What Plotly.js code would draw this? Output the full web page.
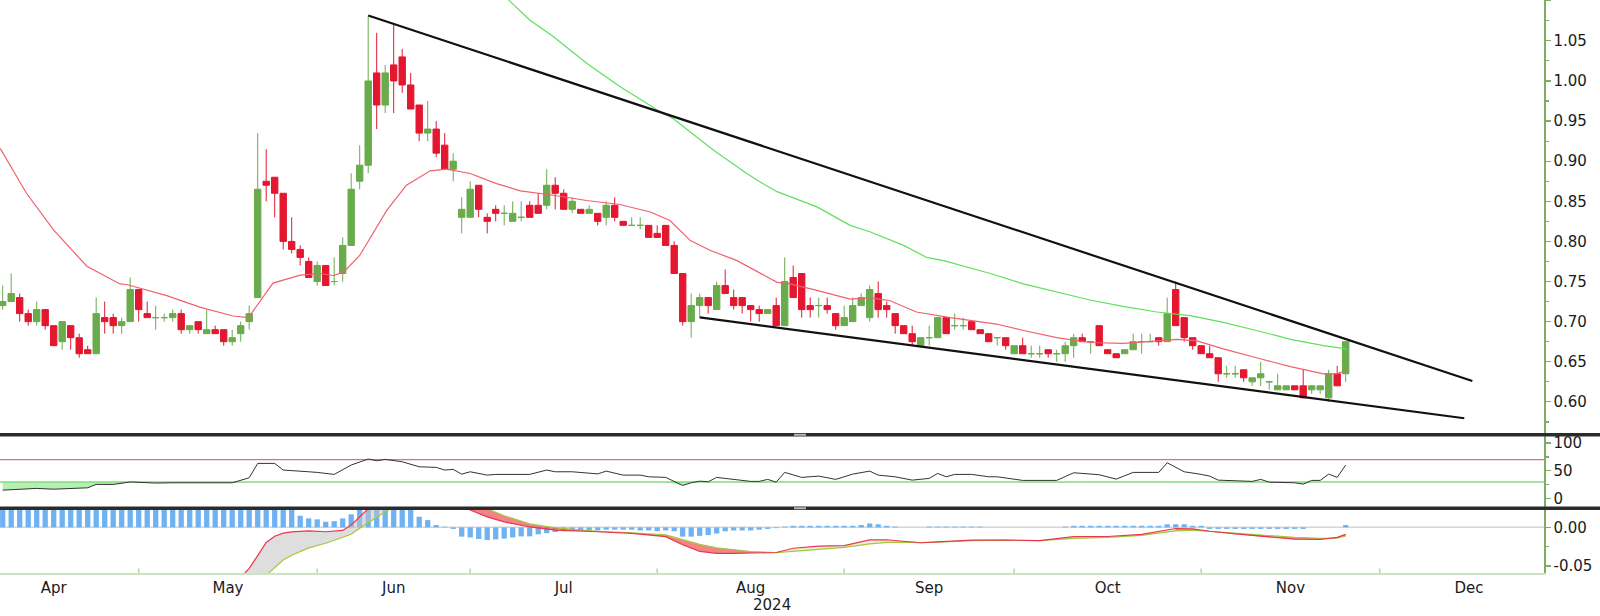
<!DOCTYPE html>
<html><head><meta charset="utf-8">
<script src="https://cdn.plot.ly/plotly-3.0.1.min.js"></script>
<style>html,body{margin:0;padding:0;background:#fff}#chart{width:1600px;height:616px}</style>
</head><body><div id="chart"></div>
<script>
// ---- price candles (one per trading session, Apr -> Nov 2024) ----
const open = [0.72,0.725,0.73,0.71,0.70,0.715,0.695,0.675,0.695,0.68,
0.665,0.66,0.705,0.705,0.695,0.70,0.74,0.71,0.705,0.705,
0.705,0.71,0.69,0.70,0.685,0.69,0.69,0.675,0.685,0.70,
0.73,0.875,0.88,0.86,0.80,0.79,0.775,0.75,0.77,0.75,
0.76,0.795,0.875,0.895,1.01,0.97,1.02,1.03,0.995,0.97,
0.935,0.94,0.92,0.89,0.83,0.83,0.87,0.83,0.84,0.835,
0.825,0.83,0.845,0.845,0.845,0.87,0.86,0.84,0.84,0.835,
0.835,0.83,0.845,0.825,0.82,0.82,0.82,0.81,0.82,0.795,
0.76,0.70,0.72,0.73,0.715,0.745,0.73,0.73,0.72,0.715,
0.71,0.72,0.695,0.755,0.76,0.72,0.72,0.72,0.71,0.695,
0.70,0.72,0.705,0.735,0.72,0.71,0.695,0.685,0.67,0.68,
0.68,0.705,0.695,0.695,0.70,0.69,0.685,0.68,0.68,0.66,
0.67,0.66,0.66,0.665,0.66,0.66,0.67,0.68,0.675,0.695,
0.665,0.66,0.66,0.665,0.675,0.675,0.68,0.675,0.74,0.705,
0.68,0.67,0.66,0.655,0.635,0.635,0.64,0.625,0.63,0.625,
0.615,0.615,0.62,0.62,0.615,0.615,0.605,0.635,0.635];
const high = [0.745,0.76,0.735,0.715,0.725,0.715,0.695,0.70,0.695,0.685,
0.67,0.73,0.725,0.71,0.705,0.755,0.74,0.725,0.72,0.71,
0.715,0.715,0.695,0.70,0.715,0.695,0.69,0.69,0.70,0.72,
0.935,0.915,0.88,0.86,0.83,0.795,0.78,0.775,0.77,0.78,
0.805,0.885,0.92,1.08,1.06,1.02,1.07,1.04,1.01,0.97,
0.975,0.95,0.935,0.91,0.855,0.875,0.87,0.835,0.845,0.845,
0.85,0.85,0.85,0.86,0.89,0.88,0.865,0.855,0.84,0.845,
0.835,0.85,0.855,0.825,0.83,0.83,0.82,0.82,0.82,0.80,
0.76,0.735,0.735,0.73,0.75,0.765,0.74,0.73,0.72,0.72,
0.715,0.73,0.78,0.77,0.76,0.73,0.73,0.73,0.71,0.72,
0.73,0.735,0.745,0.75,0.725,0.71,0.695,0.695,0.68,0.695,
0.705,0.705,0.71,0.705,0.70,0.69,0.685,0.68,0.68,0.67,
0.68,0.67,0.67,0.665,0.665,0.675,0.685,0.685,0.675,0.695,
0.665,0.66,0.665,0.685,0.685,0.685,0.68,0.73,0.75,0.705,
0.68,0.67,0.67,0.655,0.645,0.645,0.64,0.63,0.65,0.625,
0.635,0.62,0.62,0.64,0.62,0.62,0.64,0.645,0.675];
const low = [0.715,0.725,0.70,0.695,0.695,0.69,0.67,0.665,0.665,0.655,
0.66,0.66,0.685,0.685,0.685,0.70,0.70,0.705,0.69,0.70,
0.70,0.685,0.685,0.685,0.685,0.685,0.67,0.67,0.675,0.69,
0.73,0.85,0.83,0.79,0.785,0.77,0.755,0.745,0.745,0.745,
0.75,0.795,0.865,0.885,0.94,0.96,0.96,0.985,0.965,0.925,
0.925,0.905,0.89,0.875,0.81,0.83,0.83,0.81,0.825,0.82,
0.825,0.825,0.83,0.835,0.84,0.84,0.84,0.835,0.835,0.835,
0.82,0.82,0.825,0.82,0.82,0.815,0.805,0.805,0.795,0.76,
0.695,0.68,0.705,0.71,0.715,0.735,0.715,0.71,0.70,0.70,
0.71,0.695,0.695,0.73,0.705,0.705,0.705,0.71,0.69,0.695,
0.70,0.72,0.70,0.705,0.705,0.685,0.685,0.67,0.67,0.67,
0.68,0.685,0.69,0.69,0.69,0.685,0.675,0.67,0.665,0.66,
0.66,0.655,0.655,0.655,0.65,0.65,0.655,0.675,0.66,0.67,
0.66,0.655,0.66,0.665,0.66,0.675,0.67,0.675,0.695,0.675,
0.665,0.66,0.655,0.625,0.63,0.63,0.625,0.62,0.62,0.615,
0.615,0.615,0.615,0.605,0.61,0.61,0.60,0.62,0.625];
const close = [0.725,0.735,0.71,0.70,0.715,0.695,0.67,0.70,0.68,0.66,
0.66,0.71,0.70,0.695,0.70,0.74,0.715,0.705,0.705,0.705,
0.71,0.69,0.695,0.69,0.69,0.685,0.675,0.68,0.695,0.71,
0.865,0.87,0.86,0.80,0.79,0.78,0.755,0.77,0.745,0.75,
0.795,0.865,0.895,1.00,0.97,1.01,1.00,0.995,0.965,0.935,
0.94,0.91,0.89,0.90,0.84,0.865,0.84,0.825,0.835,0.835,
0.835,0.83,0.83,0.835,0.87,0.86,0.84,0.85,0.835,0.84,
0.825,0.845,0.83,0.82,0.82,0.82,0.805,0.805,0.795,0.76,
0.70,0.72,0.73,0.72,0.745,0.735,0.72,0.72,0.715,0.71,
0.715,0.695,0.75,0.73,0.715,0.715,0.72,0.715,0.695,0.705,
0.72,0.73,0.74,0.715,0.715,0.695,0.685,0.675,0.68,0.68,
0.705,0.685,0.695,0.695,0.69,0.685,0.675,0.68,0.67,0.67,
0.66,0.66,0.66,0.66,0.66,0.67,0.68,0.675,0.675,0.67,
0.66,0.655,0.665,0.675,0.675,0.675,0.675,0.71,0.695,0.68,
0.67,0.66,0.655,0.635,0.635,0.635,0.63,0.63,0.635,0.625,
0.62,0.62,0.615,0.605,0.62,0.62,0.635,0.62,0.675];

// ---- moving averages (session index, price) ----
const maRedK = [-0.3,2.8,6,9.9,13.8,14.7,19.3,23.2,27.1,28.9,31.8,35,37.3,38.9,40.1,42,45.2,47.5,50.3,52.2,55,58.1,60.9,64.8,68.7,72.6,76.2,78.5,80.9,83.2,86.4,89.1,91.1,92.6,95.8,99.7,102,104.4,107.5,111.5,116.9,120.1,124,127.9,131.8,135.8,138.1,140.5,143.6,147.5,151.5,155.4,156.9,158.1];
const maRedVal = [0.916,0.860,0.814,0.769,0.747,0.746,0.7325,0.718,0.707,0.705,0.748,0.758,0.760,0.7575,0.7617,0.7825,0.839,0.870,0.888,0.890,0.8846,0.872,0.863,0.8575,0.851,0.846,0.8366,0.826,0.801,0.789,0.776,0.760,0.749,0.747,0.739,0.728,0.730,0.726,0.712,0.705,0.697,0.689,0.680,0.674,0.673,0.676,0.678,0.676,0.666,0.655,0.644,0.635,0.635,0.639];
const maGreenK = [59.5,62,64.8,68.7,72.6,77.3,78.9,83.6,87.5,89.1,91.1,95.8,99.7,102,106,108.7,110.7,116.2,120.1,127.9,131.8,135.8,139.7,143.6,147.5,151.5,155.4,158.1];
const maGreenVal = [1.101,1.076,1.055,1.022,0.993,0.962,0.953,0.914,0.885,0.874,0.862,0.843,0.820,0.812,0.795,0.780,0.776,0.760,0.747,0.727,0.719,0.712,0.7075,0.699,0.689,0.678,0.670,0.666];

// ---- wedge trend lines ----
const upperLineK = [43, 172.9];
const upperLineVal = [1.0816, 0.626];
const lowerLineK = [82, 171.95];
const lowerLineVal = [0.7054, 0.5796];

// ---- RSI ----
const rsiK = [0,4,6,10,11,13,15,18,20,22,24,27,29,30,32,33,36,37,39,41,43,44,45,47,49,51,52,53,54,55,57,58,62,64,65,67,70,71,73,75,76,78,80,81,82,83,84,86,88,89,90,91,92,94,96,98,100,102,103,105,107,109,110,111,112,114,116,117,120,124,126,129,131,133,136,137,139,141,142,143,145,147,148,149,152,153,154,155,156,157,158];
const rsiVal = [15.3,18.4,17,19.5,25.6,25.5,30,28,28.5,28.5,27.5,28.5,37.5,63.4,63.4,51.4,48.3,47.2,43.6,60.4,71.2,68.1,70.6,66.3,57.3,56.2,51.4,52.6,44.1,48.3,42.3,43.6,43.6,51.4,48.3,48.3,44.5,49.5,42.3,42.3,39.3,38.2,23.8,28.5,31.5,30.3,38.2,34.6,31,31,34.6,29.7,47.2,38.2,40.5,34.6,44.1,49.5,42.3,39.3,33.3,36.4,45.4,39.3,43.6,43.6,39.3,39.3,32.8,32.8,46.5,43,35.1,47.2,47.2,64.5,48.3,43.6,40.5,33.3,32,31,34.6,29.7,28.5,26.1,32.8,32.8,44.1,38.2,60.4];
const rsiLevels = [70, 30];

// ---- MACD ----
const macdK = [28,29,30,31,32,33,34,36,38,40,41,42,43,44,45,46,50,54,55,57,59,62,65,70,74,78,80,82,84,86,88,91,93,96,99,102,104,106,108,110,114,118,122,126,130,134,136,138,140,142,145,148,152,155,157,158];
const macdVal = [-0.065,-0.053,-0.0365,-0.0195,-0.0115,-0.0075,-0.0058,-0.0045,-0.0057,-0.004,0.003,0.014,0.025,0.035,0.045,0.05,0.05,0.028,0.0224,0.0135,0.007,0.0005,-0.0035,-0.0057,-0.0077,-0.012,-0.0225,-0.031,-0.0336,-0.0336,-0.033,-0.0325,-0.027,-0.0242,-0.0235,-0.0162,-0.016,-0.018,-0.0199,-0.0188,-0.0164,-0.0164,-0.0172,-0.0121,-0.0118,-0.009,-0.005,-0.0015,-0.002,-0.005,-0.0085,-0.0118,-0.0153,-0.0155,-0.0129,-0.009];
const signalVal = [-0.09,-0.08,-0.07,-0.062,-0.052,-0.0423,-0.036,-0.0265,-0.0205,-0.0135,-0.009,-0.0013,0.006,0.013,0.021,0.027,0.045,0.035,0.032,0.024,0.015,0.0045,-0.0005,-0.0053,-0.007,-0.0098,-0.0158,-0.022,-0.0265,-0.0293,-0.0312,-0.0326,-0.031,-0.0286,-0.026,-0.0213,-0.0195,-0.0192,-0.0198,-0.019,-0.0172,-0.0165,-0.0172,-0.0142,-0.013,-0.0103,-0.0075,-0.0045,-0.0035,-0.0052,-0.0075,-0.0105,-0.013,-0.0142,-0.0138,-0.0112];
const macdHist = [0.03,0.03,0.03,0.03,0.03,0.03,0.03,0.03,0.03,0.03,
0.03,0.03,0.03,0.03,0.03,0.03,0.03,0.03,0.03,0.03,
0.03,0.03,0.03,0.03,0.03,0.03,0.03,0.03,0.03,0.03,
0.03,0.03,0.03,0.03,0.03,
0.015,0.0116,0.0103,0.0072,0.008,0.0116,0.0168,
0.03,0.03,0.03,0.03,0.03,0.03,0.03,
0.0137,0.0094,0.003,0.0008,-0.002,
-0.012,-0.013,-0.015,-0.0164,-0.0155,-0.0145,-0.013,-0.0117,-0.0117,-0.009,-0.0075,-0.006,-0.005,-0.005,-0.0045,-0.004,-0.004,
-0.003,-0.003,-0.003,-0.003,-0.004,-0.004,-0.005,-0.004,-0.005,
-0.012,-0.012,-0.011,-0.010,-0.008,-0.005,-0.004,-0.004,-0.004,-0.003,-0.002,-0.001,
0.001,0.002,0.002,0.002,0.002,0.002,0.002,0.002,0.002,0.003,0.005,0.004,0.002,0.001,
0,0,0,0.001,0.001,0.001,0.001,0.001,0.001,0.001,0,0,0,0,0,0,0,0,0,0.001,
0.002,0.002,0.002,0.002,0.002,0.002,0.002,0.002,0.002,0.002,0.002,
0.004,0.004,0.004,0.002,0.002,
-0.002,-0.002,-0.002,-0.002,-0.002,-0.002,-0.002,-0.002,-0.002,-0.002,-0.002,-0.002,
0,0,0,0,0.003];
// MACD/signal fill bands: [first index, last index] in macdK, colour
const macdBands = [[0,17,'rgba(195,195,195,0.55)'],[17,31,'rgba(240,90,95,0.75)'],[31,47,'rgba(215,215,170,0.45)'],[47,55,'rgba(240,90,95,0.75)']];

// ---- axis labels ----
const monthNames = ['Apr','May','Jun','Jul','Aug','Sep','Oct','Nov','Dec'];
const monthStarts = [-4,16,37,55,77,99,119,141,162,183]; // session index of first session of Apr..Jan
const yearLabel = '2024';
const priceTicks = [0.60,0.65,0.70,0.75,0.80,0.85,0.90,0.95,1.00,1.05,1.10];
const priceTickText = ['0.60','0.65','0.70','0.75','0.80','0.85','0.90','0.95','1.00','1.05',''];
const priceMinor = [0.575,0.625,0.675,0.725,0.775,0.825,0.875,0.925,0.975,1.025,1.075];
const rsiTicks = [0,50,100], rsiMinor = [25,75];
const macdTicks = [0,-0.05], macdTickText = ['0.00','-0.05'], macdMinor = [-0.025];

// ---------------------------------------------------------------
const GREEN = '#69ab4d', RED = '#e3172f', AX = '#7eac66';
const day = close.map((_, i) => i);
const upIdx = day.filter(i => close[i] >= open[i]);
const dnIdx = day.filter(i => close[i] < open[i]);
function candles(idx, color) {
  return {type:'candlestick', x: idx, open: idx.map(i=>open[i]), high: idx.map(i=>high[i]),
    low: idx.map(i=>low[i]), close: idx.map(i=>close[i]), xaxis:'x', yaxis:'y',
    increasing:{line:{color:color,width:1}, fillcolor:color},
    decreasing:{line:{color:color,width:1}, fillcolor:color},
    whiskerwidth:0, hoverinfo:'skip', showlegend:false};
}
const traces = [];
traces.push({x: maGreenK, y: maGreenVal, mode:'lines', line:{color:'#5fe05a', width:1.2}, xaxis:'x', yaxis:'y'});
traces.push({x: maRedK, y: maRedVal, mode:'lines', line:{color:'#f0606e', width:1.2}, xaxis:'x', yaxis:'y'});
traces.push(candles(upIdx, GREEN));
traces.push(candles(dnIdx, RED));
traces.push({x: upperLineK, y: upperLineVal, mode:'lines', line:{color:'#111', width:2.2}, xaxis:'x', yaxis:'y'});
traces.push({x: lowerLineK, y: lowerLineVal, mode:'lines', line:{color:'#111', width:2.2}, xaxis:'x', yaxis:'y'});

// RSI fills
traces.push({x: rsiK, y: rsiK.map(() => rsiLevels[1]), mode:'lines', line:{width:0}, xaxis:'x', yaxis:'y2'});
traces.push({x: rsiK, y: rsiVal.map(v => Math.min(v, rsiLevels[1])), mode:'lines', line:{width:0}, fill:'tonexty', fillcolor:'rgba(120,225,115,0.55)', xaxis:'x', yaxis:'y2'});
traces.push({x: rsiK, y: rsiK.map(() => rsiLevels[0]), mode:'lines', line:{width:0}, xaxis:'x', yaxis:'y2'});
traces.push({x: rsiK, y: rsiVal.map(v => Math.max(v, rsiLevels[0])), mode:'lines', line:{width:0}, fill:'tonexty', fillcolor:'rgba(240,110,110,0.5)', xaxis:'x', yaxis:'y2'});
traces.push({x: rsiK, y: rsiVal, mode:'lines', line:{color:'#333', width:1}, xaxis:'x', yaxis:'y2'});

// MACD
traces.push({type:'bar', x: day, y: macdHist, width:0.62, marker:{color:'#6fb2f1', line:{width:0}}, xaxis:'x', yaxis:'y3'});
macdBands.forEach(([a,b,col]) => {
  traces.push({x: macdK.slice(a,b+1), y: signalVal.slice(a,b+1), mode:'lines', line:{width:0}, xaxis:'x', yaxis:'y3'});
  traces.push({x: macdK.slice(a,b+1), y: macdVal.slice(a,b+1), mode:'lines', line:{width:0}, fill:'tonexty', fillcolor:col, xaxis:'x', yaxis:'y3'});
});
traces.push({x: macdK, y: signalVal, mode:'lines', line:{color:'#a6c83a', width:1.2}, xaxis:'x', yaxis:'y3'});
traces.push({x: macdK, y: macdVal, mode:'lines', line:{color:'#e8384f', width:1.2}, xaxis:'x', yaxis:'y3'});
traces.forEach(t => { t.hoverinfo = 'skip'; t.showlegend = false; });

const monthCenters = monthNames.map((_, i) => (monthStarts[i] + monthStarts[i+1]) / 2);
const shapes = [];
// panel separators
const sepX1 = 1600/1544;
shapes.push({type:'rect', xref:'paper', yref:'paper', x0:0, x1:sepX1, y0:0.2382, y1:0.2443, fillcolor:'#2b2b2b', line:{width:0}});
shapes.push({type:'rect', xref:'paper', yref:'paper', x0:0, x1:sepX1, y0:0.1099, y1:0.1160, fillcolor:'#2b2b2b', line:{width:0}});
shapes.push({type:'rect', xref:'paper', yref:'paper', x0:794/1544, x1:806/1544, y0:0.2395, y1:0.2430, fillcolor:'#b8b8b8', line:{width:0}});
shapes.push({type:'rect', xref:'paper', yref:'paper', x0:794/1544, x1:806/1544, y0:0.1112, y1:0.1147, fillcolor:'#b8b8b8', line:{width:0}});
// RSI levels
shapes.push({type:'line', xref:'paper', yref:'y2', x0:0, x1:1, y0:rsiLevels[0], y1:rsiLevels[0], line:{color:'#e04a50', width:1}, layer:'below'});
shapes.push({type:'line', xref:'paper', yref:'y2', x0:0, x1:1, y0:rsiLevels[1], y1:rsiLevels[1], line:{color:'#a6e3a0', width:2}, layer:'below'});
// MACD zero line
shapes.push({type:'line', xref:'paper', yref:'y3', x0:0, x1:1, y0:0, y1:0, line:{color:'#d6d6d6', width:1.5}, layer:'below'});
// month boundary ticks
monthStarts.slice(1, -1).forEach(s => shapes.push({type:'line', xref:'x', yref:'paper', x0:s, x1:s, y0:0, y1:0.008, line:{color:'#bcd5a8', width:1.5}}));

const font = {family:'DejaVu Sans, Verdana, sans-serif', size:15, color:'#1a1a1a'};
const yCommon = {side:'right', anchor:'x', showgrid:false, zeroline:false, showline:true, linecolor:AX, linewidth:1.5,
  ticks:'outside', ticklen:5, tickcolor:AX, tickwidth:1.2, fixedrange:true, tickfont:font};
const layout = {
  width:1600, height:616, margin:{l:0, r:56, t:0, b:43},
  paper_bgcolor:'#fff', plot_bgcolor:'#fff', showlegend:false, hovermode:false,
  font: font, boxgap:0.25, boxgroupgap:0,
  xaxis:{range:[-0.318, 181.33], anchor:'y3', showgrid:false, zeroline:false, showline:true, linecolor:'#cfe2bf', linewidth:1.5,
    tickmode:'array', tickvals:monthCenters, ticktext:monthNames, ticks:'', tickfont:font, rangeslider:{visible:false}, fixedrange:true},
  yaxis:Object.assign({}, yCommon, {domain:[0.2435,1], range:[0.5606,1.1009], tickmode:'array', tickvals:priceTicks, ticktext:priceTickText,
    minor:{tickmode:'array', tickvals:priceMinor, ticks:'outside', ticklen:3, tickcolor:AX}}),
  yaxis2:Object.assign({}, yCommon, {domain:[0.1143,0.2391], range:[-15.9,112.6], tickmode:'array', tickvals:rsiTicks,
    minor:{tickmode:'array', tickvals:rsiMinor, ticks:'outside', ticklen:3, tickcolor:AX}}),
  yaxis3:Object.assign({}, yCommon, {domain:[0,0.1099], range:[-0.0590,0.0224], tickmode:'array', tickvals:macdTicks, ticktext:macdTickText,
    minor:{tickmode:'array', tickvals:macdMinor, ticks:'outside', ticklen:3, tickcolor:AX}}),
  shapes: shapes,
  annotations:[{text:yearLabel, xref:'x', yref:'paper', x:90.5, y:-0.0558, showarrow:false, font:font, xanchor:'center', yanchor:'middle'}]
};
Plotly.newPlot('chart', traces, layout, {displayModeBar:false, staticPlot:true});
</script>
</body></html>
